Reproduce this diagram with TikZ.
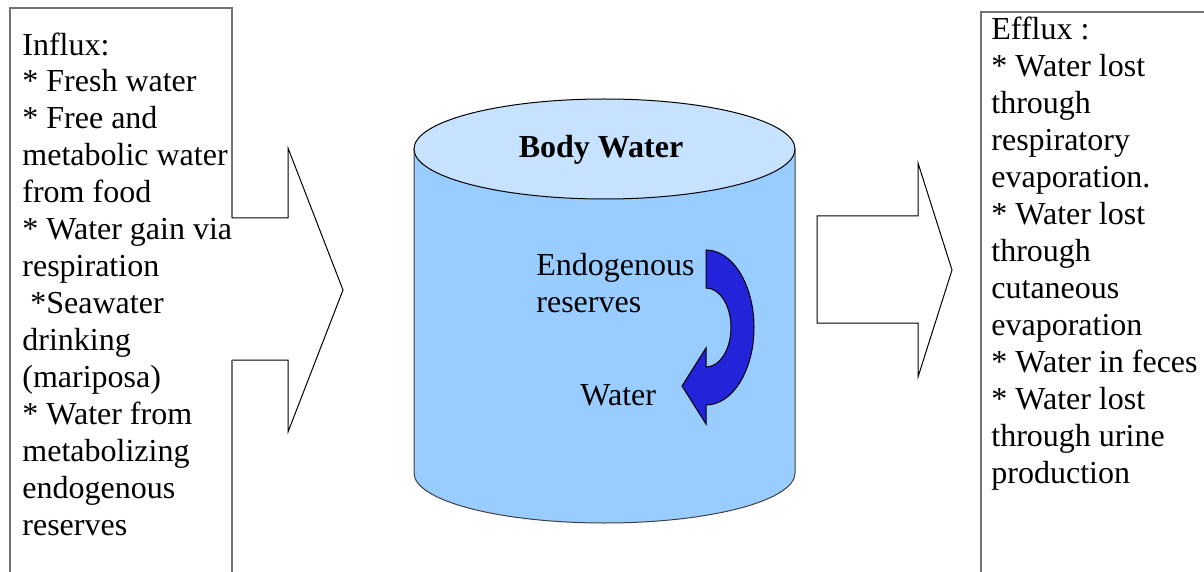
\documentclass[tikz,border=0pt]{standalone}
\usepackage{fontspec}
\setmainfont{Liberation Serif}
\usetikzlibrary{positioning}
\definecolor{cyltop}{RGB}{198,226,255}
\definecolor{cylbody}{RGB}{153,204,255}
\definecolor{bendblue}{RGB}{35,35,218}

\begin{document}
\begin{tikzpicture}[
    x=0.5pt, y=-0.5pt,
    txt/.style={inner sep=0pt, align=left, anchor=base west, font=\fontsize{16}{18.46}\selectfont},
    frame/.style={draw=black!55, line width=0.7pt},
    blockarrow/.style={draw=black, line width=0.5pt, line join=miter},
]
\useasboundingbox (0,0) rectangle (1204,572);
% body water cylinder
\fill[cylbody] (414,149) -- (414,473) arc[start angle=180, end angle=0, x radius=190.5, y radius=50] -- (795,149) -- cycle;
\draw[line width=0.5pt, black!75] (414,149) -- (414,473) arc[start angle=180, end angle=0, x radius=190.5, y radius=50] -- (795,149);
\draw[fill=cyltop, line width=0.5pt] (604.5,149) ellipse[x radius=190.5, y radius=50];
% bent arrow inside
\draw[fill=bendblue, line width=0.5pt] (706,250) arc[start angle=-90, end angle=90, x radius=48, y radius=77.5]
    -- (706,424) -- (682,386) -- (706,348) -- (706,367)
    arc[start angle=90, end angle=-90, x radius=25, y radius=39.5] -- cycle;
% influx box and arrow
\draw[frame] (10,572) -- (10,8) -- (232,8) -- (232,218);
\draw[blockarrow] (232,218) -- (288,218) -- (288,148) -- (343,290) -- (288,432) -- (288,360) -- (232,360);
\draw[frame] (232,360) -- (232,572);
% efflux arrow and box
\draw[blockarrow] (817,216) -- (918,216) -- (918,163) -- (952,270) -- (918,377) -- (918,323) -- (817,323) -- cycle;
\draw[frame] (981,572) -- (981,12) -- (1204,12);
% texts (placed by the baseline of their last line)
\node[txt] (influx) at (22,535) {Influx:\\* Fresh water\\* Free and\\metabolic water\\from food\\* Water gain via\\respiration\\\ *Seawater\\drinking\\(mariposa)\\* Water from\\metabolizing\\endogenous\\reserves};
\node[inner sep=0pt, anchor=base, font=\bfseries\fontsize{16}{18.46}\selectfont] (bodywater) at (601,158) {Body Water};
\node[txt] (endo) at (536,312) {Endogenous\\reserves};
\node[txt] (water) at (580,405) {Water};
\node[txt] (efflux) at (991,483) {Efflux :\\* Water lost\\through\\respiratory\\evaporation.\\* Water lost\\through\\cutaneous\\evaporation\\* Water in feces\\* Water lost\\through urine\\production};
\end{tikzpicture}
\end{document}
